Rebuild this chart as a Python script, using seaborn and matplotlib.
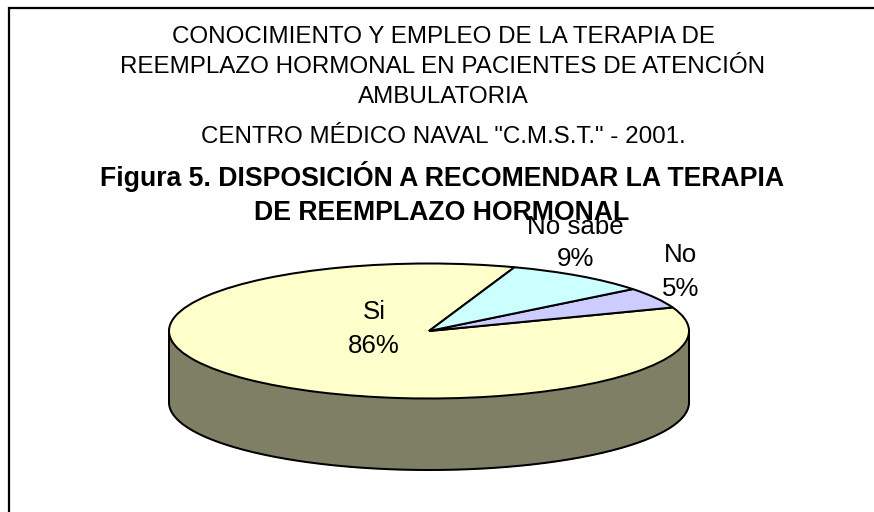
import numpy as np
import matplotlib
matplotlib.use('Agg')
import matplotlib.pyplot as plt
from matplotlib.lines import Line2D
import seaborn as sns

categories = ['Si', 'No', 'No sabe']
shares = [86, 5, 9]
colors = ['#FFFFCC', '#CCCCFF', '#CCFFFF']
side_color = '#7F7F66'

title_lines = ['CONOCIMIENTO Y EMPLEO DE LA TERAPIA DE',
               'REEMPLAZO HORMONAL EN PACIENTES DE ATENCIÓN',
               'AMBULATORIA',
               'CENTRO MÉDICO NAVAL "C.M.S.T." - 2001.']
title_y = [37, 67, 97, 137]
bold_lines = ['Figura 5. DISPOSICIÓN A RECOMENDAR LA TERAPIA',
              'DE REEMPLAZO HORMONAL']
bold_y = [177, 213]

W, H = 874, 512
DEPTH = 71.5 / 67.5  # wall height in units of the short radius

sns.set_theme(style='white')
plt.rcParams['font.family'] = ['Liberation Sans', 'DejaVu Sans']

fig = plt.figure(figsize=(W / 100, H / 100), dpi=100, facecolor='white')


def fx(px):
    return px / W


def fy(px):
    return 1 - px / H


# axes box: ellipse spans x 169-689, top face y 263.5-398.5, wall down to 470
ax = fig.add_axes([fx(169), fy(470), 520 / W, 206.5 / H])
t = np.linspace(np.pi, 2 * np.pi, 300)
ax.fill_between(np.cos(t), np.sin(t) - DEPTH, np.sin(t), color=side_color, lw=0, zorder=1)
ax.plot(np.cos(t), np.sin(t) - DEPTH, color='black', lw=1.45, zorder=2)
ax.plot([-1, -1], [0, -DEPTH], color='black', lw=1.45, zorder=2)
ax.plot([1, 1], [0, -DEPTH], color='black', lw=1.45, zorder=2)

wedges, _ = ax.pie(shares, colors=colors, startangle=70.8, radius=1,
                   wedgeprops=dict(edgecolor='black', linewidth=1.45, zorder=3))
ax.set_aspect('auto')
ax.set_xlim(-1, 1)
ax.set_ylim(-1 - DEPTH, 1)
ax.axis('off')
for artist in ax.get_children():
    artist.set_clip_on(False)

for line, y in zip(title_lines, title_y):
    fig.text(fx(443), fy(y), line, ha='center', va='center', fontsize=17.4, color='black')
for line, y in zip(bold_lines, bold_y):
    fig.text(fx(442), fy(y), line, ha='center', va='center', fontsize=19.2, fontweight='bold', color='black')

# data labels, name above the share
label_pos = {'Si': (374, 312, 346), 'No': (681, 255, 289), 'No sabe': (575, 227, 259)}
for name, share in zip(categories, shares):
    x, y1, y2 = label_pos[name]
    fig.text(fx(x), fy(y1), name, ha='center', va='center', fontsize=18.6, color='black')
    fig.text(fx(x), fy(y2), f'{share}%', ha='center', va='center', fontsize=18.6, color='black')

# chart area border, only left and top fit in the crop
fig.add_artist(Line2D([fx(9), fx(9), 1], [0, fy(8), fy(8)], color='black', lw=1.6,
                      solid_joinstyle='miter', solid_capstyle='butt'))

fig.savefig('out.png', dpi=100)
